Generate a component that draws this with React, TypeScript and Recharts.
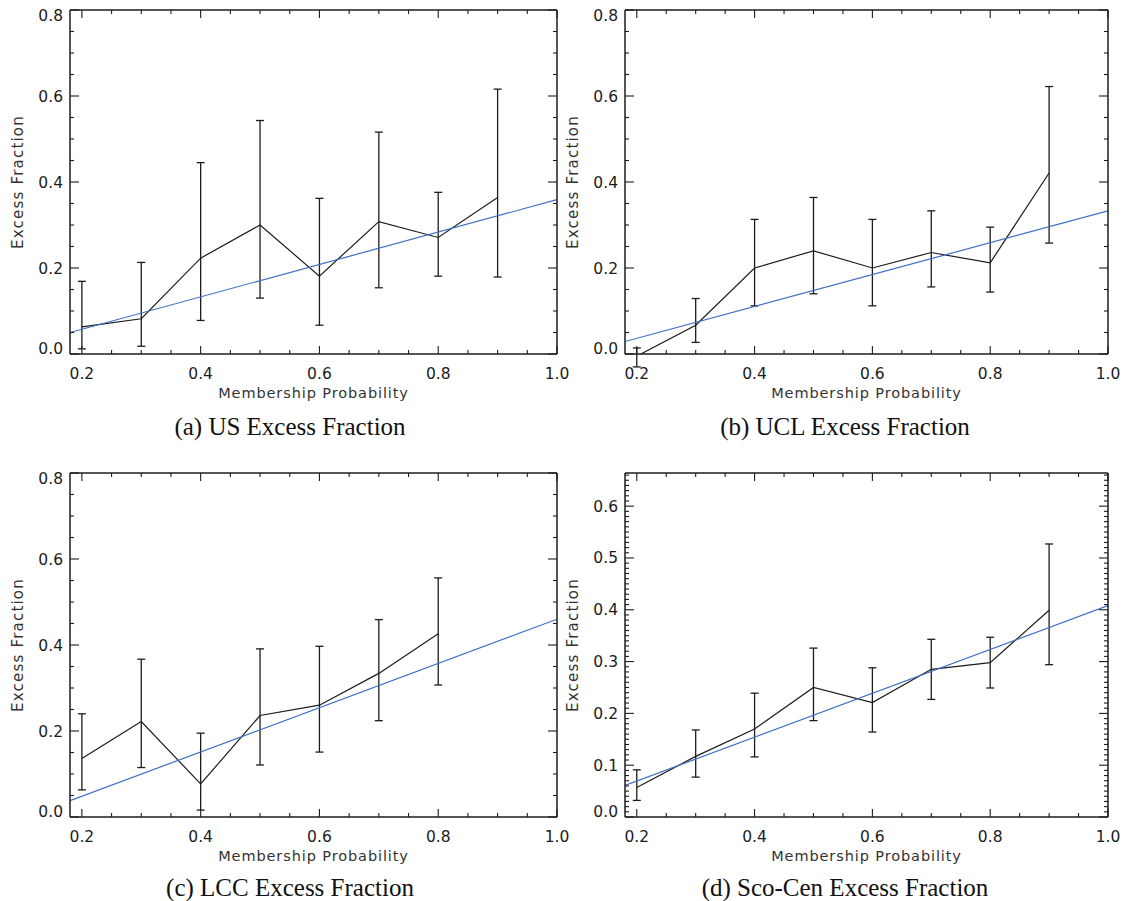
import { LineChart, Line, XAxis, YAxis, ErrorBar } from "recharts"

// membership probability bins
const probs = [0.2, 0.3, 0.4, 0.5, 0.6, 0.7, 0.8, 0.9]
// the blue fit line runs across the full x range
const fitX = [0.18, 1.0]

// (a) US
const usValues = [0.063, 0.082, 0.223, 0.3, 0.181, 0.308, 0.271, 0.364]
const usUpper = [0.169, 0.213, 0.445, 0.543, 0.362, 0.516, 0.376, 0.616]
const usLower = [0.012, 0.018, 0.078, 0.13, 0.067, 0.154, 0.181, 0.179]
const usFit = [0.05, 0.359]

// (b) UCL
const uclValues = [-0.005, 0.067, 0.2, 0.24, 0.2, 0.236, 0.212, 0.421]
const uclUpper = [0.014, 0.129, 0.313, 0.364, 0.313, 0.333, 0.295, 0.622]
const uclLower = [-0.03, 0.027, 0.112, 0.14, 0.112, 0.156, 0.144, 0.258]
const uclFit = [0.029, 0.333]

// (c) LCC
const lccValues = [0.136, 0.222, 0.077, 0.236, 0.26, 0.334, 0.426]
const lccUpper = [0.24, 0.367, 0.195, 0.391, 0.397, 0.459, 0.556]
const lccLower = [0.063, 0.115, 0.016, 0.121, 0.151, 0.224, 0.307]
const lccFit = [0.038, 0.46]

// (d) Sco-Cen
const scValues = [0.057, 0.117, 0.17, 0.25, 0.221, 0.285, 0.298, 0.399]
const scUpper = [0.091, 0.168, 0.239, 0.326, 0.288, 0.343, 0.347, 0.527]
const scLower = [0.032, 0.077, 0.116, 0.186, 0.164, 0.227, 0.249, 0.294]
const scFit = [0.061, 0.408]

const steps = (from: number, to: number, step: number) => {
  const out: number[] = []
  for (let v = from; v <= to + 1e-9; v += step) out.push(Math.round(v * 1000) / 1000)
  return out
}

const xTicks = steps(0.2, 1.0, 0.05)
const yTicks8 = steps(0, 0.8, 0.05)
const yTicksSc = steps(0, 0.66, 0.01)

const onStep = (v: number, step: number) => Math.abs(v / step - Math.round(v / step)) < 1e-6

const INK = "#1c1c1c"
const TICK_FONT = "DejaVu Sans"
const TICK_SIZE = 15.5

type PanelProps = {
  left: number
  top: number
  width: number
  values: number[]
  upper: number[]
  lower: number[]
  fit: number[]
  yMax: number
  yTicks: number[]
  yMajor: number
  caption: string
  captionX: number
  captionY: number
}

function Panel({ left, top, width, values, upper, lower, fit, yMax, yTicks, yMajor, caption, captionX, captionY }: PanelProps) {
  const pts = values.map((v, i) => ({ p: probs[i], v, err: [v - lower[i], upper[i] - v] }))
  const fitPts = fitX.map((p, i) => ({ p, f: fit[i] }))

  const bottomTick = (props: any) => {
    const { x, y, payload } = props
    const major = onStep(payload.value, 0.2)
    return (
      <g>
        <line x1={x} x2={x} y1={y} y2={y - (major ? 8 : 4)} stroke={INK} strokeWidth={1.1} />
        {major && (
          <text x={x} y={y + 24.5} textAnchor="middle" fontSize={TICK_SIZE} fontFamily={TICK_FONT} fill={INK}>
            {payload.value.toFixed(1)}
          </text>
        )}
      </g>
    )
  }
  const topTick = (props: any) => {
    const { x, y, payload } = props
    const major = onStep(payload.value, 0.2)
    return <line x1={x} x2={x} y1={y} y2={y + (major ? 8 : 4)} stroke={INK} strokeWidth={1.1} />
  }
  const leftTick = (props: any) => {
    const { x, y, payload } = props
    const major = onStep(payload.value, yMajor)
    let base = y + 5.5
    if (payload.value === 0) base = y
    if (Math.abs(payload.value - yMax) < 1e-6) base = y + 11
    return (
      <g>
        <line x1={x} x2={x + (major ? 9 : 4)} y1={y} y2={y} stroke={INK} strokeWidth={1.1} />
        {major && (
          <text x={x - 7} y={base} textAnchor="end" fontSize={TICK_SIZE} fontFamily={TICK_FONT} fill={INK}>
            {payload.value.toFixed(1)}
          </text>
        )}
      </g>
    )
  }
  const rightTick = (props: any) => {
    const { x, y, payload } = props
    const major = onStep(payload.value, yMajor)
    return <line x1={x} x2={x - (major ? 9 : 4)} y1={y} y2={y} stroke={INK} strokeWidth={1.1} />
  }

  const xTitle = (props: any) => {
    const vb = props.viewBox
    return (
      <text x={vb.x + vb.width / 2} y={vb.y + 44} textAnchor="middle" fontSize={14.5} fontFamily={TICK_FONT} fill="#333" letterSpacing={0.9}>
        Membership Probability
      </text>
    )
  }
  const yTitle = (props: any) => {
    const vb = props.viewBox
    const cx = vb.x + vb.width - 52
    const cy = vb.y + vb.height / 2
    return (
      <text x={cx} y={cy} transform={`rotate(-90 ${cx} ${cy})`} textAnchor="middle" dominantBaseline="central" fontSize={15} fontFamily={TICK_FONT} fill="#333" letterSpacing={1.2}>
        Excess Fraction
      </text>
    )
  }

  const axisLine = { stroke: INK, strokeWidth: 1.5 }

  return (
    <>
      <div style={{ position: "absolute", left, top }}>
        <LineChart width={width} height={410} margin={{ top: 9, right: 19, bottom: 10, left: 10 }}>
          <XAxis xAxisId={0} dataKey="p" type="number" domain={[0.18, 1.0]} allowDataOverflow ticks={xTicks} interval={0}
            tick={bottomTick} tickLine={false} tickSize={0} tickMargin={0} axisLine={axisLine} height={46} label={{ content: xTitle }} />
          <XAxis xAxisId="top" orientation="top" dataKey="p" type="number" domain={[0.18, 1.0]} allowDataOverflow ticks={xTicks} interval={0}
            tick={topTick} tickLine={false} tickSize={0} tickMargin={0} axisLine={axisLine} height={1} />
          <YAxis yAxisId={0} type="number" domain={[0, yMax]} allowDataOverflow ticks={yTicks} interval={0}
            tick={leftTick} tickLine={false} tickSize={0} tickMargin={0} axisLine={axisLine} width={60} label={{ content: yTitle }} />
          <YAxis yAxisId="right" orientation="right" type="number" domain={[0, yMax]} allowDataOverflow ticks={yTicks} interval={0}
            tick={rightTick} tickLine={false} tickSize={0} tickMargin={0} axisLine={axisLine} width={1} />
          <Line data={pts} dataKey="v" type="linear" stroke={INK} strokeWidth={1.2} dot={false} activeDot={false} isAnimationActive={false}>
            <ErrorBar dataKey="err" width={4} stroke={INK} strokeWidth={1.3} direction="y" isAnimationActive={false} />
          </Line>
          <Line data={fitPts} dataKey="f" type="linear" stroke="#3d6fc4" strokeWidth={1.2} dot={false} activeDot={false} isAnimationActive={false} />
        </LineChart>
      </div>
      <div style={{ position: "absolute", left: captionX - 200, top: captionY - 15, width: 400, textAlign: "center", fontFamily: "'Liberation Serif', serif", fontSize: 25, lineHeight: "30px", color: "#111" }}>
        {caption}
      </div>
    </>
  )
}

export default function App() {
  return (
    <div style={{ position: "absolute", left: 0, top: 0, width: 1128, height: 901, background: "#fff" }}>
      <Panel left={0} top={0} width={577} values={usValues} upper={usUpper} lower={usLower} fit={usFit}
        yMax={0.8} yTicks={yTicks8} yMajor={0.2} caption="(a) US Excess Fraction" captionX={290} captionY={427} />
      <Panel left={555} top={0} width={573} values={uclValues} upper={uclUpper} lower={uclLower} fit={uclFit}
        yMax={0.8} yTicks={yTicks8} yMajor={0.2} caption="(b) UCL Excess Fraction" captionX={845} captionY={427} />
      <Panel left={0} top={462.7} width={577} values={lccValues} upper={lccUpper} lower={lccLower} fit={lccFit}
        yMax={0.8} yTicks={yTicks8} yMajor={0.2} caption="(c) LCC Excess Fraction" captionX={290} captionY={888} />
      <Panel left={555} top={462.7} width={573} values={scValues} upper={scUpper} lower={scLower} fit={scFit}
        yMax={0.664} yTicks={yTicksSc} yMajor={0.1} caption="(d) Sco-Cen Excess Fraction" captionX={845} captionY={888} />
    </div>
  )
}
